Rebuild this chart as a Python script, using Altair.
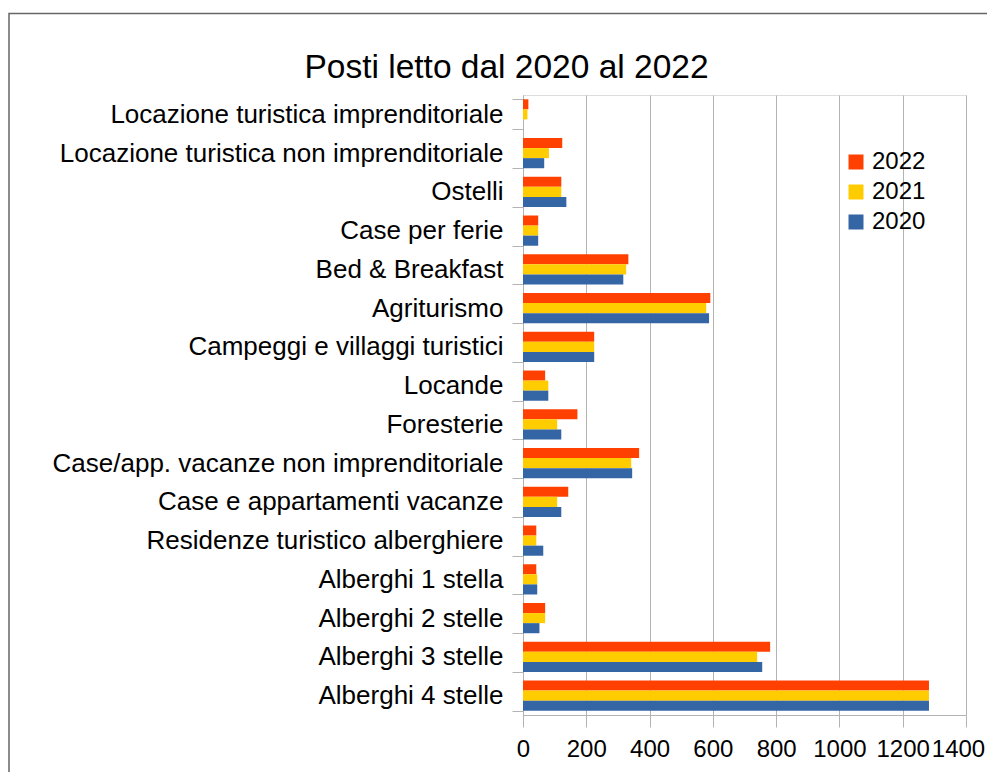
import altair as alt
import pandas as pd

categories = [
    "Locazione turistica imprenditoriale",
    "Locazione turistica non imprenditoriale",
    "Ostelli",
    "Case per ferie",
    "Bed & Breakfast",
    "Agriturismo ",
    "Campeggi e villaggi turistici",
    "Locande",
    "Foresterie",
    "Case/app. vacanze non imprenditoriale",
    "Case e appartamenti vacanze",
    "Residenze turistico alberghiere",
    "Alberghi 1 stella",
    "Alberghi 2 stelle",
    "Alberghi 3 stelle",
    "Alberghi 4 stelle",
]
years = ["2022", "2021", "2020"]
values_2022 = [17, 124, 121, 48, 333, 592, 225, 70, 172, 367, 143, 42, 42, 70, 781, 1283]
values_2021 = [14, 82, 121, 48, 326, 579, 225, 80, 108, 342, 108, 42, 45, 70, 740, 1283]
values_2020 = [0, 67, 137, 48, 317, 588, 225, 80, 121, 345, 121, 64, 45, 52, 756, 1283]
colors = ["#ff4000", "#ffcc00", "#3465a4"]
x_ticks = [0, 200, 400, 600, 800, 1000, 1200, 1400]

series = {"2022": values_2022, "2021": values_2021, "2020": values_2020}
rows = []
for y in years:
    for c, v in zip(categories, series[y]):
        rows.append({"Categoria": c, "Anno": y, "Posti": v})
df = pd.DataFrame(rows)

FONT = "Liberation Sans"

bars = alt.Chart(df).mark_bar().encode(
    x=alt.X("Posti:Q",
            scale=alt.Scale(domain=[0, 1400], nice=False),
            axis=alt.Axis(values=x_ticks, format="d", title=None, labelFontSize=24, labelFont=FONT,
                          labelColor="#000000", tickSize=12, tickColor="#b3b3b3",
                          domainColor="#b3b3b3", gridColor="#b3b3b3", grid=True,
                          labelPadding=10, labelFlush=False, labelOverlap=False,
                          labelOffset={"condition": {"test": "datum.value === 1400", "value": -8},
                                       "value": 0})),
    y=alt.Y("Categoria:N", sort=categories,
            scale=alt.Scale(paddingInner=0.22, paddingOuter=0.11),
            axis=alt.Axis(title=None, labelFontSize=26, labelFont=FONT, labelColor="#000000",
                          tickSize=11, tickColor="#b3b3b3", domainColor="#b3b3b3",
                          tickBand="extent", labelPadding=9, grid=False, labelLimit=600)),
    yOffset=alt.YOffset("Anno:N", sort=years, scale=alt.Scale(domain=years)),
    color=alt.Color("Anno:N",
                    scale=alt.Scale(domain=years, range=colors),
                    legend=alt.Legend(title=None, orient="none", legendX=321, legendY=55,
                                      symbolType="square", symbolSize=225,
                                      symbolStrokeWidth=0, labelFontSize=24, labelFont=FONT,
                                      labelColor="#000000", rowPadding=6, labelOffset=4)),
)

frame = alt.Chart(alt.Data(values=[{}])).mark_rect(
    fillOpacity=0, stroke="#666666", strokeWidth=1.5
).encode(
    x=alt.value(-514), x2=alt.value(1000), y=alt.value(-81.5), y2=alt.value(1000)
)

chart = alt.layer(frame, bars).properties(
    width=443,
    height=620,
    autosize=alt.AutoSizeParams(type="none"),
    padding={"left": 515, "top": 87, "right": 21, "bottom": 57},
    title=alt.TitleParams("Posti letto dal 2020 al 2022", fontSize=33.5, font=FONT,
                          fontWeight="normal", color="#000000", anchor="middle",
                          frame="group", dx=-238, offset=0, dy=73),
).configure_view(stroke="#b3b3b3").configure(background="white")

chart.save("out.html", embed_options={"renderer": "svg", "actions": False})
